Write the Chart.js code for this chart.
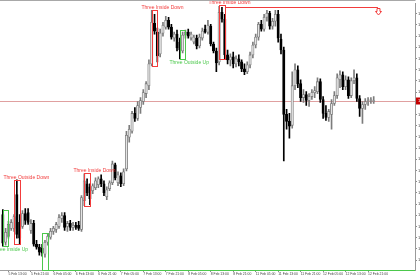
<!DOCTYPE html>
<html lang="en">
<head>
<meta charset="UTF-8">
<title>H1 candles with pattern marks</title>
<script src="https://cdn.jsdelivr.net/npm/chart.js"></script>
<style>
  body { margin: 0; background: #fff; }
  .wrap { width: 420px; height: 280px; position: relative; }
</style>
</head>
<body>
<div class="wrap"><canvas id="chart"></canvas></div>
<script>
// hourly bars, 5 Feb 11:00 .. 12 Feb 23:00
const opens = [
  1.3286,1.3258,1.3264,1.3272,1.3272,1.3306,1.3278,1.3274,1.3287,1.3288,
  1.3270,1.3277,1.3256,1.3253,1.3252,1.3246,1.3258,1.3263,1.3269,1.3271,
  1.3274,1.3282,1.3285,1.3274,1.3277,1.3273,1.3275,1.3275,1.3271,1.3300,
  1.3317,1.3314,1.3310,1.3313,1.3316,1.3322,1.3317,1.3304,1.3312,1.3318,
  1.3336,1.3318,1.3325,1.3317,1.3332,1.3364,1.3370,1.3388,1.3383,1.3394,
  1.3400,1.3408,1.3416,1.3438,1.3479,1.3470,1.3448,1.3469,1.3475,1.3482,
  1.3475,1.3464,1.3468,1.3460,1.3451,1.3467,1.3470,1.3464,1.3460,1.3464,
  1.3456,1.3464,1.3473,1.3470,1.3476,1.3458,1.3451,1.3440,1.3490,1.3483,
  1.3447,1.3442,1.3445,1.3438,1.3443,1.3440,1.3433,1.3430,1.3437,1.3447,
  1.3457,1.3465,1.3478,1.3473,1.3485,1.3489,1.3476,1.3481,1.3488,1.3463,
  1.3452,1.3387,1.3380,1.3376,1.3416,1.3432,1.3418,1.3404,1.3407,1.3401,
  1.3405,1.3409,1.3410,1.3420,1.3402,1.3388,1.3384,1.3387,1.3398,1.3406,
  1.3422,1.3427,1.3415,1.3422,1.3406,1.3421,1.3424,1.3403,1.3393,1.3397,
  1.3400,1.3401,1.3400
];
const highs = [
  1.3291,1.3272,1.3279,1.3281,1.3286,1.3321,1.3286,1.3290,1.3292,1.3292,
  1.3281,1.3280,1.3260,1.3256,1.3256,1.3260,1.3267,1.3272,1.3274,1.3278,
  1.3286,1.3288,1.3288,1.3279,1.3280,1.3278,1.3278,1.3279,1.3305,1.3327,
  1.3322,1.3317,1.3317,1.3323,1.3324,1.3326,1.3320,1.3314,1.3320,1.3340,
  1.3338,1.3329,1.3328,1.3332,1.3370,1.3376,1.3390,1.3394,1.3400,1.3404,
  1.3412,1.3420,1.3442,1.3492,1.3488,1.3474,1.3473,1.3480,1.3486,1.3485,
  1.3478,1.3470,1.3472,1.3464,1.3470,1.3472,1.3473,1.3470,1.3467,1.3467,
  1.3468,1.3474,1.3477,1.3482,1.3478,1.3460,1.3454,1.3496,1.3495,1.3488,
  1.3452,1.3448,1.3450,1.3446,1.3447,1.3442,1.3438,1.3440,1.3450,1.3460,
  1.3468,1.3480,1.3482,1.3488,1.3492,1.3491,1.3484,1.3492,1.3492,1.3468,
  1.3455,1.3392,1.3388,1.3430,1.3438,1.3436,1.3422,1.3412,1.3410,1.3408,
  1.3412,1.3415,1.3424,1.3423,1.3405,1.3396,1.3392,1.3402,1.3410,1.3428,
  1.3431,1.3430,1.3426,1.3425,1.3424,1.3432,1.3428,1.3406,1.3400,1.3403,
  1.3404,1.3404,1.3405
];
const lows = [
  1.3254,1.3255,1.3262,1.3270,1.3269,1.3262,1.3256,1.3272,1.3276,1.3276,
  1.3267,1.3254,1.3251,1.3245,1.3244,1.3243,1.3255,1.3261,1.3266,1.3268,
  1.3272,1.3278,1.3270,1.3269,1.3270,1.3270,1.3271,1.3270,1.3269,1.3295,
  1.3305,1.3296,1.3307,1.3311,1.3313,1.3314,1.3305,1.3301,1.3310,1.3316,
  1.3321,1.3315,1.3314,1.3315,1.3330,1.3359,1.3368,1.3380,1.3381,1.3388,
  1.3397,1.3404,1.3412,1.3436,1.3468,1.3440,1.3445,1.3466,1.3473,1.3473,
  1.3463,1.3461,1.3451,1.3443,1.3449,1.3464,1.3464,1.3462,1.3458,1.3453,
  1.3454,1.3462,1.3469,1.3468,1.3456,1.3449,1.3430,1.3437,1.3480,1.3443,
  1.3438,1.3436,1.3434,1.3435,1.3436,1.3430,1.3427,1.3428,1.3434,1.3444,
  1.3454,1.3462,1.3471,1.3471,1.3481,1.3473,1.3473,1.3476,1.3460,1.3448,
  1.3340,1.3372,1.3363,1.3373,1.3412,1.3414,1.3400,1.3399,1.3396,1.3395,
  1.3402,1.3404,1.3408,1.3399,1.3383,1.3381,1.3380,1.3372,1.3396,1.3403,
  1.3414,1.3412,1.3412,1.3403,1.3404,1.3418,1.3400,1.3385,1.3378,1.3392,
  1.3396,1.3398,1.3398
];
const closes = [
  1.3257,1.3268,1.3276,1.3278,1.3284,1.3266,1.3262,1.3287,1.3280,1.3278,
  1.3277,1.3256,1.3253,1.3248,1.3247,1.3258,1.3264,1.3269,1.3272,1.3276,
  1.3283,1.3285,1.3273,1.3277,1.3273,1.3275,1.3273,1.3272,1.3303,1.3320,
  1.3308,1.3302,1.3315,1.3320,1.3322,1.3317,1.3308,1.3311,1.3318,1.3337,
  1.3323,1.3326,1.3317,1.3329,1.3366,1.3372,1.3388,1.3383,1.3396,1.3401,
  1.3409,1.3418,1.3438,1.3480,1.3471,1.3446,1.3469,1.3477,1.3482,1.3475,
  1.3465,1.3468,1.3454,1.3452,1.3467,1.3470,1.3466,1.3468,1.3465,1.3456,
  1.3465,1.3471,1.3470,1.3477,1.3458,1.3451,1.3439,1.3490,1.3483,1.3447,
  1.3442,1.3445,1.3438,1.3443,1.3440,1.3433,1.3430,1.3437,1.3447,1.3457,
  1.3465,1.3478,1.3473,1.3485,1.3489,1.3476,1.3481,1.3488,1.3464,1.3452,
  1.3387,1.3380,1.3375,1.3416,1.3432,1.3418,1.3404,1.3407,1.3401,1.3405,
  1.3409,1.3411,1.3420,1.3402,1.3388,1.3384,1.3390,1.3398,1.3406,1.3424,
  1.3427,1.3415,1.3422,1.3406,1.3421,1.3424,1.3403,1.3393,1.3397,1.3400,
  1.3401,1.3402,1.34005
];

// time axis: one label every 8 bars, first one on bar 2
const timeLabels = [
  '5 Feb 13:00', '5 Feb 21:00', '6 Feb 05:00', '6 Feb 13:00', '6 Feb 21:00',
  '7 Feb 05:00', '7 Feb 13:00', '7 Feb 21:00', '8 Feb 05:00', '8 Feb 13:00',
  '8 Feb 21:00', '11 Feb 05:00', '11 Feb 13:00', '11 Feb 21:00', '12 Feb 05:00',
  '12 Feb 13:00', '12 Feb 21:00'
];
const firstLabelBar = 2;
const labelEvery = 8;

// price scale marks
const priceTicks = [
  1.32400, 1.32513, 1.32626, 1.32739, 1.32852, 1.32965, 1.33078, 1.33191,
  1.33304, 1.33417, 1.33530, 1.33643, 1.33756, 1.33869, 1.33982, 1.34095,
  1.34208, 1.34321, 1.34434, 1.34547, 1.34660, 1.34773, 1.34886
];

// found patterns (bar range and price box), plus an optional level line
const patternNames  = ['Three Inside Up', 'Three Outside Down', 'Three Outside Up', 'Three Inside Down',
                       'Three Inside Down', 'Three Outside Up', 'Three Inside Down'];
const patternFrom   = [0, 4, 14, 29, 53, 63, 77];
const patternTo     = [2, 6, 16, 31, 55, 65, 79];
const patternTop    = [1.3291, 1.3321, 1.3267, 1.3328, 1.3492, 1.3472, 1.3497];
const patternBottom = [1.3254, 1.3256, 1.3230, 1.3295, 1.3436, 1.3443, 1.3443];
const patternLevel  = [null, null, 1.3230, null, null, null, 1.3495];
const patternLineTo = [null, null, 148, null, null, null, 133.5];

const BULL_BODY = '#e4e4e4', BULL_EDGE = '#7c7c7c', BEAR = '#000000';
const RED = '#f23c3c', GREEN = '#4cc84c';
const FONT = '"Liberation Sans", Arial, sans-serif';

const isBull = i => closes[i] >= opens[i];
const bars = opens.map((_, i) => i);

const overlay = {
  id: 'overlay',
  beforeDatasetsDraw(chart) {
    const { ctx, chartArea: a, scales: { y } } = chart;
    const py = Math.round(y.getPixelForValue(closes[closes.length - 1])) + 0.5;
    ctx.save();
    ctx.strokeStyle = '#e0a0a0';
    ctx.lineWidth = 1;
    ctx.beginPath();
    ctx.moveTo(a.left, py);
    ctx.lineTo(a.right, py);
    ctx.stroke();
    ctx.restore();
  },
  afterDatasetsDraw(chart) {
    const { ctx, chartArea: a, scales: { x, y } } = chart;
    ctx.save();
    ctx.beginPath();
    ctx.rect(0, 0, a.right, a.bottom + 1);
    ctx.clip();
    ctx.lineWidth = 1;
    ctx.font = '5px ' + FONT;
    ctx.textAlign = 'left';
    patternNames.forEach((name, k) => {
      const up = / Up$/.test(name);
      const col = up ? GREEN : RED;
      const x1 = Math.round(x.getPixelForValue(patternFrom[k])) + 0.5;
      const x2 = Math.round(x.getPixelForValue(patternTo[k])) + 0.5;
      const y1 = Math.round(y.getPixelForValue(patternTop[k])) + 0.5;
      const y2 = Math.round(y.getPixelForValue(patternBottom[k])) + 0.5;
      ctx.strokeStyle = col;
      ctx.fillStyle = col;
      ctx.strokeRect(x1, y1, x2 - x1, y2 - y1);
      if (up) {
        ctx.textBaseline = 'top';
        ctx.fillText(name, x1 - 11, y2 + 1);
      } else {
        ctx.textBaseline = 'bottom';
        ctx.fillText(name, x1 - 11, y1 - 0.5);
      }
      if (patternLevel[k] !== null) {
        const ly = Math.round(y.getPixelForValue(patternLevel[k])) + 0.5;
        const xe = Math.min(a.right, x.getPixelForValue(patternLineTo[k]));
        ctx.beginPath();
        ctx.moveTo(x2, ly);
        ctx.lineTo(xe, ly);
        ctx.stroke();
        if (!up) {
          const ax = Math.round(xe) + 0.5;
          ctx.beginPath();
          ctx.moveTo(ax - 1.5, ly + 1);
          ctx.lineTo(ax + 1.5, ly + 1);
          ctx.lineTo(ax + 1.5, ly + 4);
          ctx.lineTo(ax + 3, ly + 4);
          ctx.lineTo(ax, ly + 7.5);
          ctx.lineTo(ax - 3, ly + 4);
          ctx.lineTo(ax - 1.5, ly + 4);
          ctx.closePath();
          ctx.stroke();
        }
      }
    });
    ctx.restore();
  },
  afterDraw(chart) {
    const { ctx, chartArea: a, scales: { y } } = chart;
    const last = closes[closes.length - 1];
    const py = Math.round(y.getPixelForValue(last));
    ctx.save();
    ctx.strokeStyle = '#a8a8a8';
    ctx.lineWidth = 1;
    ctx.beginPath();
    ctx.moveTo(0, 0.5);
    ctx.lineTo(a.right + 0.5, 0.5);
    ctx.stroke();
    ctx.fillStyle = '#c40000';
    ctx.fillRect(a.right + 1, py - 3.5, 40, 7);
    ctx.fillStyle = '#ffffff';
    ctx.font = '4px ' + FONT;
    ctx.textBaseline = 'middle';
    ctx.fillText(last.toFixed(5), a.right + 3, py);
    ctx.restore();
  }
};

new Chart(document.getElementById('chart'), {
  type: 'bar',
  data: {
    datasets: [
      {
        label: 'wick',
        data: bars.map(i => ({ x: i, y: [lows[i], highs[i]] })),
        backgroundColor: c => isBull(c.dataIndex) ? BULL_EDGE : BEAR,
        barThickness: 1,
        grouped: false,
        order: 2
      },
      {
        label: 'body',
        data: bars.map(i => ({ x: i, y: [opens[i], closes[i]] })),
        backgroundColor: c => isBull(c.dataIndex) ? BULL_BODY : BEAR,
        borderColor: c => isBull(c.dataIndex) ? BULL_EDGE : BEAR,
        borderWidth: 0.8,
        borderSkipped: false,
        barThickness: 2.4,
        minBarLength: 1,
        grouped: false,
        order: 1
      }
    ]
  },
  options: {
    responsive: true,
    maintainAspectRatio: false,
    animation: false,
    layout: { padding: { top: 1, left: 0, right: 0, bottom: 0 } },
    plugins: { legend: { display: false }, tooltip: { enabled: false } },
    scales: {
      x: {
        type: 'linear',
        min: -1,
        max: 146.7,
        offset: false,
        grid: { drawOnChartArea: false, tickLength: 2, color: '#8c8c8c', offset: false },
        border: { color: '#a0a0a0' },
        afterBuildTicks: s => { s.ticks = timeLabels.map((_, k) => ({ value: firstLabelBar + k * labelEvery })); },
        afterFit: s => { s.height = 10; },
        ticks: {
          autoSkip: false,
          maxRotation: 0,
          align: 'start',
          padding: 0,
          color: '#444',
          font: { size: 3.4, family: FONT },
          callback: v => timeLabels[Math.round((v - firstLabelBar) / labelEvery)]
        }
      },
      y: {
        position: 'right',
        min: 1.3230,
        max: 1.3499,
        grid: { drawOnChartArea: false, tickLength: 2, color: '#8c8c8c' },
        border: { color: '#9a9a9a' },
        afterBuildTicks: s => { s.ticks = priceTicks.map(v => ({ value: v })); },
        afterFit: s => { s.width = 5; },
        ticks: {
          padding: 1,
          color: '#444',
          font: { size: 4, family: FONT },
          callback: v => v.toFixed(5)
        }
      }
    }
  },
  plugins: [overlay]
});
</script>
</body>
</html>
